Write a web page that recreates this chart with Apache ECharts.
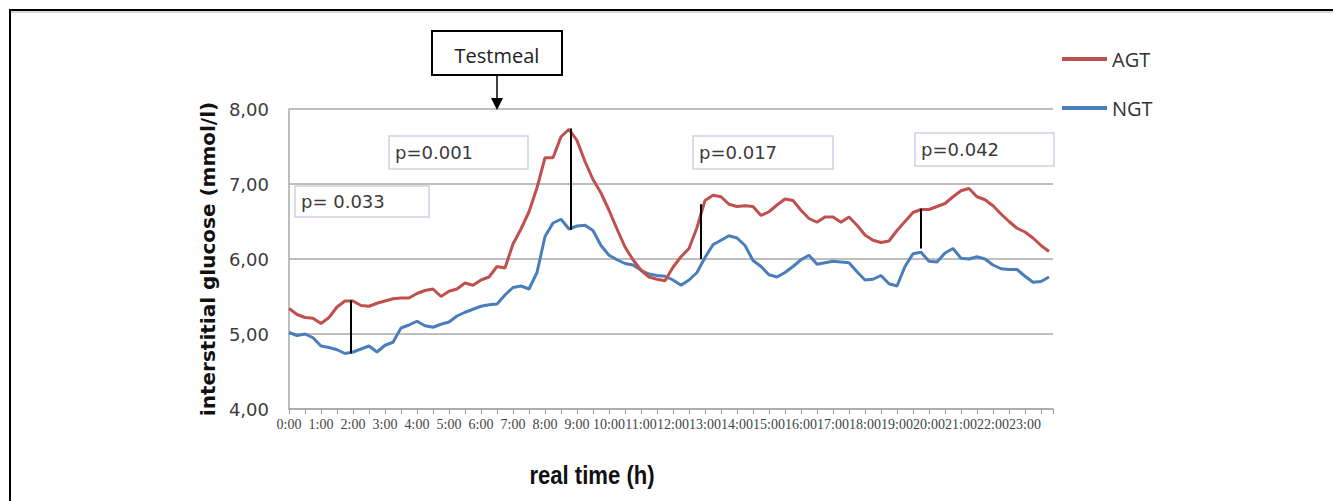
<!DOCTYPE html>
<html>
<head>
<meta charset="utf-8">
<script src="https://cdn.jsdelivr.net/npm/echarts@6/dist/echarts.min.js"></script>
<style>
html,body{margin:0;padding:0;background:#fff;}
#chart{width:1333px;height:501px;}
</style>
</head>
<body>
<div id="chart"></div>
<script>
// ---- data ----
// time of day in hours, 15-minute resolution (category positions)
const hours = Array.from({length: 96}, (_, i) => i / 4);
const seriesNames = ['AGT', 'NGT'];
const agt = [
  5.34, 5.26, 5.22, 5.21,
  5.14, 5.22, 5.36, 5.44,
  5.44, 5.38, 5.37, 5.41,
  5.44, 5.47, 5.48, 5.48,
  5.54, 5.58, 5.60, 5.50,
  5.57, 5.60, 5.68, 5.65,
  5.72, 5.76, 5.90, 5.88,
  6.20, 6.40, 6.63, 6.95,
  7.35, 7.35, 7.63, 7.73,
  7.58, 7.30, 7.06, 6.88,
  6.65, 6.40, 6.16, 5.99,
  5.85, 5.76, 5.73, 5.71,
  5.89, 6.03, 6.14, 6.42,
  6.78, 6.85, 6.83, 6.73,
  6.70, 6.71, 6.70, 6.58,
  6.63, 6.72, 6.80, 6.78,
  6.65, 6.54, 6.49, 6.56,
  6.56, 6.49, 6.56, 6.45,
  6.32, 6.25, 6.22, 6.24,
  6.38, 6.50, 6.62, 6.66,
  6.66, 6.70, 6.74, 6.83,
  6.91, 6.94, 6.83, 6.79,
  6.71, 6.60, 6.50, 6.41,
  6.36, 6.28, 6.18, 6.10
];
const ngt = [
  5.02, 4.98, 5.00, 4.95,
  4.84, 4.82, 4.79, 4.74,
  4.76, 4.80, 4.84, 4.76,
  4.85, 4.89, 5.08, 5.12,
  5.17, 5.11, 5.09, 5.13,
  5.16, 5.24, 5.29, 5.33,
  5.37, 5.39, 5.40, 5.52,
  5.62, 5.64, 5.60, 5.82,
  6.30, 6.48, 6.53, 6.40,
  6.44, 6.45, 6.38, 6.18,
  6.05, 5.99, 5.94, 5.92,
  5.85, 5.80, 5.78, 5.77,
  5.72, 5.65, 5.72, 5.82,
  6.02, 6.19, 6.25, 6.31,
  6.28, 6.18, 5.98, 5.90,
  5.79, 5.76, 5.82, 5.90,
  5.99, 6.05, 5.93, 5.95,
  5.97, 5.96, 5.95, 5.83,
  5.72, 5.73, 5.78, 5.67,
  5.64, 5.90, 6.07, 6.09,
  5.97, 5.96, 6.08, 6.14,
  6.01, 6.00, 6.03, 6.00,
  5.92, 5.87, 5.86, 5.86,
  5.77, 5.69, 5.70, 5.76
];
const yTicks = [4, 5, 6, 7, 8];
// significance markers (time, AGT value, NGT value, label)
const pHours = [1.92, 8.8, 12.875, 19.74];
const pTop = [5.45, 7.74, 6.73, 6.67];
const pBottom = [4.74, 6.39, 6.00, 6.14];
const pLabels = ['p= 0.033', 'p=0.001', 'p=0.017', 'p=0.042'];
const testmealHour = 6.5;
const testmealLabel = 'Testmeal';
const xTitle = 'real time (h)';
const yTitle = 'interstitial glucose (mmol/l)';

// ---- layout (pixels) ----
const pBoxLayout = [
  {x: 295, y: 186, w: 134, h: 31},
  {x: 389, y: 136, w: 139, h: 33},
  {x: 693, y: 136, w: 140, h: 33},
  {x: 915, y: 133, w: 139, h: 33}
];

const chart = echarts.init(document.getElementById('chart'), null, {renderer: 'svg'});
const gridColor = '#a8a8a8';

const option = {
  animation: false,
  backgroundColor: '#fff',
  grid: {left: 289, right: 280, top: 109, bottom: 92, containLabel: false},
  legend: [
    {data: ['AGT'], left: 1062, top: 49, padding: 0, icon: 'rect', itemWidth: 45, itemHeight: 4, itemGap: 5,
     textStyle: {fontFamily: 'Open Sans', fontSize: 20, color: '#333'}},
    {data: ['NGT'], left: 1062, top: 98, padding: 0, icon: 'rect', itemWidth: 45, itemHeight: 4, itemGap: 5,
     textStyle: {fontFamily: 'Open Sans', fontSize: 20, color: '#333'}}
  ],
  xAxis: {
    type: 'value', min: 0, max: 23.875, interval: 1,
    axisLine: {show: true, lineStyle: {color: gridColor, width: 1.5}},
    axisTick: {show: true, length: 5, lineStyle: {color: '#999'}},
    minorTick: {show: true, splitNumber: 2, length: 5, lineStyle: {color: '#999'}},
    splitLine: {show: false},
    axisLabel: {
      margin: 8, fontFamily: 'Liberation Serif', fontSize: 14, color: '#444',
      formatter: v => (Number.isInteger(v) && v < 24) ? v + ':00' : ''
    }
  },
  yAxis: {
    type: 'value', min: yTicks[0], max: yTicks[yTicks.length - 1], interval: 1,
    name: yTitle, nameLocation: 'middle', nameGap: 58,
    nameTextStyle: {fontFamily: 'DejaVu Sans', fontWeight: 'bold', fontSize: 20, color: '#111'},
    axisLine: {show: true, lineStyle: {color: gridColor, width: 1.5}},
    axisTick: {show: false},
    splitLine: {show: true, lineStyle: {color: gridColor, width: 1.5}},
    axisLabel: {
      margin: 20, fontFamily: 'DejaVu Sans', fontSize: 18, color: '#3c3c3c',
      formatter: v => v.toFixed(2).replace('.', ',')
    }
  },
  series: [
    {
      name: seriesNames[0], type: 'line', showSymbol: false, symbol: 'none',
      data: hours.map((h, i) => [h, agt[i]]),
      lineStyle: {color: '#c0504d', width: 3}, itemStyle: {color: '#c0504d'},
      z: 3,
      markLine: {
        silent: true, symbol: ['none', 'none'], label: {show: false},
        lineStyle: {color: '#000', width: 2, type: 'solid'},
        data: pHours.map((h, i) => [{coord: [h, pTop[i]]}, {coord: [h, pBottom[i]]}])
      }
    },
    {
      name: seriesNames[1], type: 'line', showSymbol: false, symbol: 'none',
      data: hours.map((h, i) => [h, ngt[i]]),
      lineStyle: {color: '#4a7ebb', width: 3}, itemStyle: {color: '#4a7ebb'},
      z: 2
    }
  ]
};
chart.setOption(option);

const ax = chart.convertToPixel({xAxisIndex: 0}, testmealHour);
const graphics = [
  // frame
  {type: 'polyline', silent: true, shape: {points: [[10, 501], [10, 10], [1333, 10]]},
   style: {stroke: '#000', lineWidth: 2, fill: null}},
  {type: 'line', silent: true, shape: {x1: 11, y1: 12, x2: 1333, y2: 12}, style: {stroke: '#b0b0b0', lineWidth: 1}},
  // testmeal box and arrow
  {type: 'rect', shape: {x: ax - 65, y: 31, width: 130, height: 44}, style: {fill: '#fff', stroke: '#000', lineWidth: 2}},
  {type: 'text', style: {text: testmealLabel, x: ax, y: 55, align: 'center', verticalAlign: 'middle',
    font: '20px "Open Sans"', fill: '#222'}},
  {type: 'line', shape: {x1: ax, y1: 75, x2: ax, y2: 100}, style: {stroke: '#000', lineWidth: 1.5}},
  {type: 'polygon', shape: {points: [[ax - 6, 98], [ax + 6, 98], [ax, 110]]}, style: {fill: '#000'}},
  // x axis title
  {type: 'text', x: 592, y: 475, scaleX: 0.85, style: {text: xTitle, x: 0, y: 0, align: 'center', verticalAlign: 'middle',
    font: 'bold 26px "Liberation Sans", Arial, sans-serif', fill: '#111'}}
];
pLabels.forEach((t, i) => {
  const b = pBoxLayout[i];
  graphics.push({type: 'rect', shape: {x: b.x, y: b.y, width: b.w, height: b.h},
    style: {fill: '#fff', stroke: '#cfcfe6', lineWidth: 1.5}, z: 10});
  graphics.push({type: 'text', style: {text: t, x: b.x + 6, y: b.y + b.h / 2, align: 'left', verticalAlign: 'middle',
    font: '18px "DejaVu Sans"', fill: '#3a3a3a'}, z: 11});
});
chart.setOption({graphic: graphics});
</script>
</body>
</html>
